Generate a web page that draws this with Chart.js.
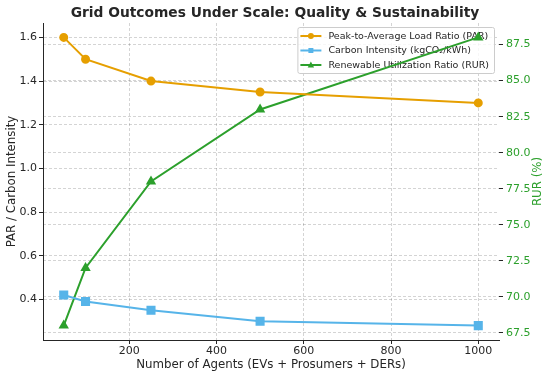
<!DOCTYPE html>
<html>
<head>
<meta charset="utf-8">
<script src="https://cdn.jsdelivr.net/npm/chart.js@4/dist/chart.umd.min.js"></script>
<style>
  html, body { margin: 0; padding: 0; background: #fff; }
  #wrap { width: 550px; height: 376px; }
</style>
</head>
<body>
<div id="wrap"><canvas id="chart" width="550" height="376"></canvas></div>
<script>
var chartTitle = "Grid Outcomes Under Scale: Quality & Sustainability";
var agents = [50, 100, 250, 500, 1000];
var parValues = [1.6, 1.5, 1.4, 1.35, 1.3];
var carbonValues = [0.42, 0.39, 0.35, 0.30, 0.28];
var rurValues = [68, 72, 78, 83, 88];
var xTicks = [200, 400, 600, 800, 1000];
var leftTicks = [0.4, 0.6, 0.8, 1.0, 1.2, 1.4, 1.6];
var rightTicks = [67.5, 70.0, 72.5, 75.0, 77.5, 80.0, 82.5, 85.0, 87.5];
var seriesNames = ["Peak-to-Average Load Ratio (PAR)", "Carbon Intensity (kgCO\u2082/kWh)", "Renewable Utilization Ratio (RUR)"];

var orange = "#E69F00";
var blue = "#56B4E9";
var green = "#2CA02C";
var txt = "#262626";
var gridCol = "rgba(0,0,0,0.17)";
var font = "DejaVu Sans";

function pts(xs, ys) {
  var out = [];
  for (var i = 0; i < xs.length; i++) out.push({x: xs[i], y: ys[i]});
  return out;
}

function fixTicks(list) {
  return function(scale) {
    scale.ticks = list.map(function(v) { return {value: v}; });
  };
}

// boxed legend goes under the lines (like the twin-axis original)
var legendBox = {
  id: "legendBox",
  beforeDatasetsDraw: function(chart) {
    var ctx = chart.ctx, area = chart.chartArea;
    ctx.save();
    ctx.font = "9.5px '" + font + "'";
    ctx.textBaseline = "middle";
    var maxW = 0;
    seriesNames.forEach(function(n) { maxW = Math.max(maxW, ctx.measureText(n).width); });
    var w = 31 + maxW + 5, h = 46;
    var bx = area.right - 5 - w, by = area.top + 4;
    ctx.fillStyle = "rgba(255,255,255,0.8)";
    ctx.strokeStyle = "#cccccc";
    ctx.lineWidth = 1;
    ctx.beginPath();
    ctx.roundRect(bx + 0.5, by + 0.5, w, h, 2);
    ctx.fill();
    ctx.stroke();
    var cols = [orange, blue, green];
    var styles = ["circle", "rect", "triangle"];
    for (var i = 0; i < 3; i++) {
      var y = by + 9 + i * 14.5;
      ctx.strokeStyle = cols[i];
      ctx.fillStyle = cols[i];
      ctx.lineWidth = 2;
      ctx.beginPath();
      ctx.moveTo(bx + 3, y);
      ctx.lineTo(bx + 24, y);
      ctx.stroke();
      var mx = bx + 13.5;
      ctx.beginPath();
      if (styles[i] == "circle") ctx.arc(mx, y, 3, 0, Math.PI * 2);
      else if (styles[i] == "rect") ctx.rect(mx - 2.5, y - 2.5, 5, 5);
      else { ctx.moveTo(mx, y - 3.5); ctx.lineTo(mx + 3.2, y + 2.5); ctx.lineTo(mx - 3.2, y + 2.5); ctx.closePath(); }
      ctx.fill();
      ctx.fillStyle = txt;
      ctx.textAlign = "left";
      ctx.fillText(seriesNames[i], bx + 31, y + 0.5);
    }
    ctx.restore();
  }
};

// title and the right axis label (reads bottom-to-top)
var extras = {
  id: "extras",
  afterDraw: function(chart) {
    var ctx = chart.ctx, area = chart.chartArea;
    ctx.save();
    ctx.fillStyle = txt;
    ctx.font = "bold 13.8px '" + font + "'";
    ctx.textAlign = "center";
    ctx.textBaseline = "middle";
    ctx.fillText(chartTitle, 275, 13);

    ctx.translate(538, (area.top + area.bottom) / 2);
    ctx.rotate(-Math.PI / 2);
    ctx.fillStyle = green;
    ctx.font = "11.8px '" + font + "'";
    ctx.fillText("RUR (%)", 0, 0);
    ctx.restore();
  }
};

var ctx = document.getElementById("chart").getContext("2d");
var myChart = new Chart(ctx, {
  type: "line",
  data: {
    datasets: [
      {
        label: seriesNames[0],
        data: pts(agents, parValues),
        yAxisID: "y",
        borderColor: orange,
        backgroundColor: orange,
        pointStyle: "circle",
        pointRadius: 3.5,
        borderWidth: 2
      },
      {
        label: seriesNames[1],
        data: pts(agents, carbonValues),
        yAxisID: "y",
        borderColor: blue,
        backgroundColor: blue,
        pointStyle: "rect",
        pointRadius: 5,
        borderWidth: 2
      },
      {
        label: seriesNames[2],
        data: pts(agents, rurValues),
        yAxisID: "y1",
        borderColor: green,
        backgroundColor: green,
        pointStyle: "triangle",
        pointRadius: 4,
        borderWidth: 2
      }
    ]
  },
  options: {
    responsive: false,
    animation: false,
    events: [],
    layout: { padding: { top: 23, left: 0, right: 0, bottom: 0 } },
    elements: { line: { tension: 0 }, point: { borderWidth: 0 } },
    plugins: {
      legend: { display: false },
      title: { display: false },
      tooltip: { enabled: false }
    },
    scales: {
      x: {
        type: "linear",
        position: "bottom",
        min: 2.5,
        max: 1047.5,
        afterBuildTicks: fixTicks(xTicks),
        afterFit: function(s) { s.height = 36; },
        ticks: { color: txt, font: { family: font, size: 11 }, padding: 1, callback: function(v) { return String(v); } },
        grid: { color: gridCol, tickColor: txt, tickLength: 4, tickBorderDash: [] },
        border: { display: true, color: txt, width: 1, dash: [3, 2] },
        title: { display: true, text: "Number of Agents (EVs + Prosumers + DERs)", color: txt, font: { family: font, size: 11.8 }, padding: { top: 0, bottom: 4 } }
      },
      y: {
        type: "linear",
        position: "left",
        min: 0.214,
        max: 1.666,
        afterBuildTicks: fixTicks(leftTicks),
        afterFit: function(s) { s.width = 43; },
        ticks: { color: txt, font: { family: font, size: 11 }, padding: 2, callback: function(v) { return v.toFixed(1); } },
        grid: { color: gridCol, tickColor: txt, tickLength: 4, tickBorderDash: [] },
        border: { display: true, color: txt, width: 1, dash: [3, 2] },
        title: { display: true, text: "PAR / Carbon Intensity", color: txt, font: { family: font, size: 11.8 }, padding: { top: 5, bottom: 0 } }
      },
      y1: {
        type: "linear",
        position: "right",
        min: 67,
        max: 89,
        afterBuildTicks: fixTicks(rightTicks),
        afterFit: function(s) { s.width = 51; },
        ticks: { color: green, font: { family: font, size: 11 }, padding: 3, callback: function(v) { return v.toFixed(1); } },
        grid: { color: gridCol, tickColor: txt, tickLength: 4, tickBorderDash: [], drawOnChartArea: true },
        border: { display: false, dash: [3, 2] },
        title: { display: false }
      }
    }
  },
  plugins: [legendBox, extras]
});
</script>
</body>
</html>
